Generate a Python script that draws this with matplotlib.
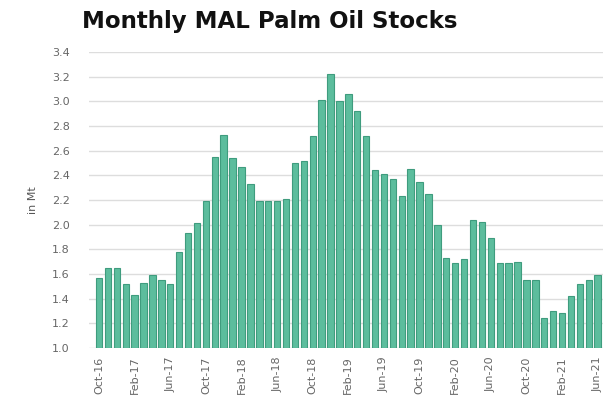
import matplotlib
matplotlib.use('Agg')
import matplotlib.pyplot as plt
import numpy as np

# monthly stocks, Oct-16 .. Jun-21 (million tonnes)
months = ['Oct-16', 'Nov-16', 'Dec-16',
          'Jan-17', 'Feb-17', 'Mar-17', 'Apr-17', 'May-17', 'Jun-17',
          'Jul-17', 'Aug-17', 'Sep-17', 'Oct-17', 'Nov-17', 'Dec-17',
          'Jan-18', 'Feb-18', 'Mar-18', 'Apr-18', 'May-18', 'Jun-18',
          'Jul-18', 'Aug-18', 'Sep-18', 'Oct-18', 'Nov-18', 'Dec-18',
          'Jan-19', 'Feb-19', 'Mar-19', 'Apr-19', 'May-19', 'Jun-19',
          'Jul-19', 'Aug-19', 'Sep-19', 'Oct-19', 'Nov-19', 'Dec-19',
          'Jan-20', 'Feb-20', 'Mar-20', 'Apr-20', 'May-20', 'Jun-20',
          'Jul-20', 'Aug-20', 'Sep-20', 'Oct-20', 'Nov-20', 'Dec-20',
          'Jan-21', 'Feb-21', 'Mar-21', 'Apr-21', 'May-21', 'Jun-21']
stocks = [1.57, 1.65, 1.65,
          1.52, 1.43, 1.53, 1.59, 1.55, 1.52,
          1.78, 1.93, 2.01, 2.19, 2.55, 2.73,
          2.54, 2.47, 2.33, 2.19, 2.19, 2.19,
          2.21, 2.50, 2.52, 2.72, 3.01, 3.22,
          3.00, 3.06, 2.92, 2.72, 2.44, 2.41,
          2.37, 2.23, 2.45, 2.35, 2.25, 2.00,
          1.73, 1.69, 1.72, 2.04, 2.02, 1.89,
          1.69, 1.69, 1.70, 1.55, 1.55, 1.24,
          1.30, 1.28, 1.42, 1.52, 1.55, 1.59]
yticks = [1.0, 1.2, 1.4, 1.6, 1.8, 2.0, 2.2, 2.4, 2.6, 2.8, 3.0, 3.2, 3.4]

fig = plt.figure(figsize=(6.03, 4.07), dpi=100)
ax = fig.add_axes([0.148, 0.145, 0.852, 0.727])

x = np.arange(len(months))
ax.bar(x, np.array(stocks) - 1.0, bottom=1.0, width=0.72,
       color='#5cbd9d', edgecolor='#3f9c7e', linewidth=0.8, zorder=2)

ax.set_ylim(1.0, 3.4)
ax.set_xlim(-1.1, 56.6)
ax.set_yticks(yticks)
ax.set_yticklabels(['%.1f' % t for t in yticks])
ax.set_xticks(x[::4])
ax.set_xticklabels(months[::4], rotation=90)
ax.tick_params(axis='y', length=0, labelsize=8, colors='#666666', pad=14)
ax.tick_params(axis='x', length=0, labelsize=8, colors='#666666', pad=6)
ax.grid(axis='y', color='#dddddd', linewidth=1, zorder=0)
for s in ax.spines.values():
    s.set_visible(False)

ax.set_ylabel('in Mt', fontsize=8, color='#555555', labelpad=10)
fig.text(0.447, 0.946, 'Monthly MAL Palm Oil Stocks', ha='center', va='center',
         fontsize=16.5, fontweight='heavy', color='#111111')

fig.savefig('out.png', dpi=100)
